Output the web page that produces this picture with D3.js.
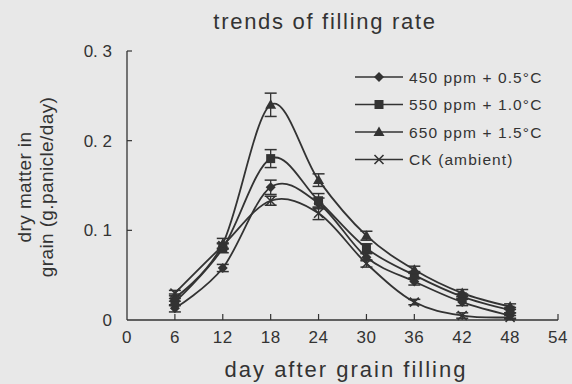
<!DOCTYPE html>
<html><head><meta charset="utf-8">
<script src="https://cdnjs.cloudflare.com/ajax/libs/d3/7.8.5/d3.min.js"></script>
<style>body{margin:0;background:#e8e8e8;}svg{display:block;}</style>
</head><body><div id="chart"></div>
<script>
const days = [6, 12, 18, 24, 30, 36, 42, 48];
const xTicks = [0, 6, 12, 18, 24, 30, 36, 42, 48, 54];
const yTicks = [0, 0.1, 0.2, 0.3];
const yTickLabels = ["0", "0. 1", "0. 2", "0. 3"];
const seriesNames = ["450 ppm + 0.5°C", "550 ppm + 1.0°C", "650 ppm + 1.5°C", "CK (ambient)"];
const seriesMarkers = ["diamond", "square", "triangle", "cross"];
const s450 = [0.013, 0.058, 0.148, 0.130, 0.070, 0.043, 0.020, 0.005];
const s550 = [0.020, 0.080, 0.180, 0.133, 0.080, 0.050, 0.026, 0.011];
const s650 = [0.025, 0.085, 0.240, 0.156, 0.094, 0.056, 0.030, 0.015];
const sCK  = [0.030, 0.083, 0.133, 0.119, 0.063, 0.020, 0.005, 0.003];
const e450 = [0.004, 0.004, 0.008, 0.006, 0.004, 0.004, 0.004, 0.003];
const e550 = [0.004, 0.005, 0.010, 0.008, 0.005, 0.004, 0.003, 0.003];
const e650 = [0.004, 0.006, 0.013, 0.007, 0.005, 0.004, 0.004, 0.003];
const eCK  = [0.003, 0.003, 0.005, 0.007, 0.004, 0.003, 0.003, 0.002];
const values = [s450, s550, s650, sCK];
const errors = [e450, e550, e650, eCK];

const W = 572, H = 384;
const svg = d3.select("#chart").append("svg").attr("width", W).attr("height", H);
const ink = "#333";
const font = "Liberation Sans, Arial, sans-serif";

const x = d3.scaleLinear().domain([0, 54]).range([127, 558]);
const y = d3.scaleLinear().domain([0, 0.3]).range([320, 51]);

// title
svg.append("text").attr("x", 325).attr("y", 29).attr("text-anchor", "middle")
  .attr("font-family", font).attr("font-size", 22).attr("letter-spacing", 1.7).attr("fill", ink).text("trends of filling rate");

// axes
const g = svg.append("g");
g.append("line").attr("x1", x(0)).attr("x2", x(54)).attr("y1", y(0)).attr("y2", y(0)).attr("stroke", ink).attr("stroke-width", 1.3);
g.append("line").attr("x1", x(0)).attr("x2", x(0)).attr("y1", y(0)).attr("y2", y(0.3)).attr("stroke", ink).attr("stroke-width", 1.3);
xTicks.forEach(t => {
  if (t > 0) g.append("line").attr("x1", x(t)).attr("x2", x(t)).attr("y1", y(0)).attr("y2", y(0) - 6).attr("stroke", ink).attr("stroke-width", 1.2);
  g.append("text").attr("x", x(t)).attr("y", 343).attr("text-anchor", "middle")
    .attr("font-family", font).attr("font-size", 17).attr("letter-spacing", 0.5).attr("fill", ink).text(t);
});
yTicks.forEach((t, i) => {
  if (t > 0) g.append("line").attr("x1", x(0)).attr("x2", x(0) + 5).attr("y1", y(t)).attr("y2", y(t)).attr("stroke", ink).attr("stroke-width", 1.2);
  g.append("text").attr("x", 112).attr("y", y(t) + 6).attr("text-anchor", "end")
    .attr("font-family", font).attr("font-size", 17).attr("fill", ink).text(yTickLabels[i]);
});
svg.append("text").attr("x", 346).attr("y", 377).attr("text-anchor", "middle")
  .attr("font-family", font).attr("font-size", 22).attr("letter-spacing", 2).attr("fill", ink).text("day after grain filling");
const yl = svg.append("text").attr("transform", "translate(0,187) rotate(-90)")
  .attr("text-anchor", "middle").attr("font-family", font).attr("font-size", 19).attr("letter-spacing", 0.4).attr("fill", ink);
yl.append("tspan").attr("x", 0).attr("y", 31).text("dry matter in");
yl.append("tspan").attr("x", 0).attr("y", 53).text("grain (g.panicle/day)");

function marker(sel, type, cx, cy) {
  if (type === "diamond") sel.append("path").attr("d", `M${cx},${cy-5}L${cx+5},${cy}L${cx},${cy+5}L${cx-5},${cy}Z`).attr("fill", ink);
  else if (type === "square") sel.append("rect").attr("x", cx-4.5).attr("y", cy-4.5).attr("width", 9).attr("height", 9).attr("fill", ink);
  else if (type === "triangle") sel.append("path").attr("d", `M${cx},${cy-5.5}L${cx+5.5},${cy+4}L${cx-5.5},${cy+4}Z`).attr("fill", ink);
  else if (type === "cross") sel.append("path").attr("d", `M${cx-4.5},${cy-4.5}L${cx+4.5},${cy+4.5}M${cx-4.5},${cy+4.5}L${cx+4.5},${cy-4.5}`).attr("stroke", ink).attr("stroke-width", 1.6);
}

const line = d3.line().x((d, i) => x(days[i])).y(d => y(d)).curve(d3.curveCardinal.tension(0));

values.forEach((vals, si) => {
  const sg = svg.append("g");
  sg.append("path").attr("d", line(vals)).attr("fill", "none").attr("stroke", ink).attr("stroke-width", 1.8);
  vals.forEach((v, i) => {
    const e = errors[si][i], cx = x(days[i]);
    sg.append("line").attr("x1", cx).attr("x2", cx).attr("y1", y(v - e)).attr("y2", y(v + e)).attr("stroke", ink).attr("stroke-width", 1.3);
    [v - e, v + e].forEach(w => sg.append("line").attr("x1", cx - 6).attr("x2", cx + 6).attr("y1", y(w)).attr("y2", y(w)).attr("stroke", ink).attr("stroke-width", 1.5));
    marker(sg, seriesMarkers[si], cx, y(v));
  });
});

// legend
seriesNames.forEach((name, i) => {
  const ly = 77 + i * 27.5;
  const lg = svg.append("g");
  lg.append("line").attr("x1", 355).attr("x2", 403).attr("y1", ly).attr("y2", ly).attr("stroke", ink).attr("stroke-width", 1.7);
  marker(lg, seriesMarkers[i], 379, ly);
  lg.append("text").attr("x", 409).attr("y", ly + 5.5).attr("font-family", font).attr("font-size", 15.5).attr("letter-spacing", 1.1).attr("fill", ink).text(name);
});
</script></body></html>
